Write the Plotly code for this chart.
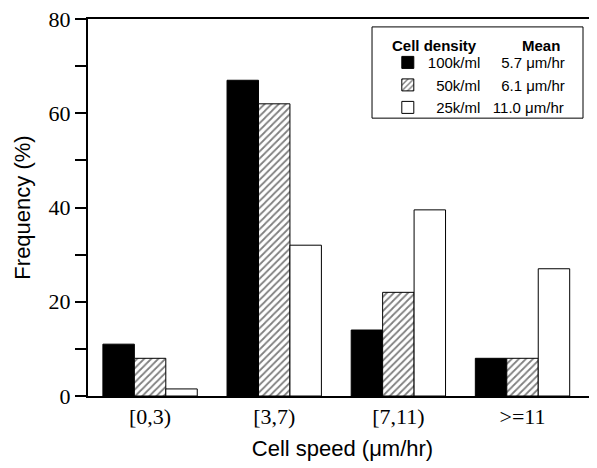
import plotly.graph_objects as go

categories = ["[0,3)", "[3,7)", "[7,11)", ">=11"]
density_labels = ["100k/ml", "\u200750k/ml", "\u200725k/ml"]
mean_labels = ["\u20075.7 \u03bcm/hr", "\u20076.1 \u03bcm/hr", "11.0 \u03bcm/hr"]
freq_100k = [11, 67, 14, 8]
freq_50k = [8, 62, 22, 8]
freq_25k = [1.5, 32, 39.5, 27]
y_tick_vals = [0, 10, 20, 30, 40, 50, 60, 70, 80]
y_tick_text = ["0", "", "20", "", "40", "", "60", "", "80"]
legend_headers = ["Cell density", "Mean"]

series = [freq_100k, freq_50k, freq_25k]
fills = [
    dict(color="black"),
    dict(color="white", pattern=dict(shape="/", fgcolor="black", bgcolor="white", size=5, solidity=0.35)),
    dict(color="white"),
]

fig = go.Figure()
for vals, dl, ml, fm in zip(series, density_labels, mean_labels, fills):
    fig.add_trace(go.Bar(
        x=categories, y=vals,
        name=dl + "\u00a0\u00a0\u00a0" + ml,
        marker=dict(line=dict(color="black", width=1), **fm),
    ))

# legend frame and header
fig.add_shape(type="rect", xref="paper", yref="paper",
              x0=0.558, x1=0.9725, y0=0.737, y1=0.979,
              line=dict(color="black", width=1), fillcolor="white", layer="below")
for hdr, hx in zip(legend_headers, [0.680, 0.890]):
    fig.add_annotation(text="<b>%s</b>" % hdr, xref="paper", yref="paper",
                       x=hx, y=0.931, xanchor="center", yanchor="middle", showarrow=False,
                       font=dict(family="Liberation Sans, Arial", size=15, color="black"))

fig.update_layout(
    width=589, height=460,
    margin=dict(l=80, r=0, t=11, b=72, autoexpand=False),
    plot_bgcolor="white", paper_bgcolor="white",
    barmode="group", bargap=0.24, bargroupgap=0,
    showlegend=True,
    legend=dict(
        x=0.589, y=0.928, xanchor="left", yanchor="top",
        borderwidth=0, bgcolor="rgba(0,0,0,0)",
        font=dict(family="Liberation Sans, Arial", size=15, color="black"),
        traceorder="normal",
        tracegroupgap=0,
        itemwidth=30,
    ),
    xaxis=dict(
        range=[-0.5, 3.6], showline=True, linecolor="black", linewidth=2,
        mirror=True, ticks="", showgrid=False,
        tickfont=dict(family="Liberation Serif, Times New Roman", size=22, color="black"),
        title=dict(text="Cell speed (\u03bcm/hr)",
                   font=dict(family="Liberation Sans, Arial", size=22, color="black"),
                   standoff=12),
    ),
    yaxis=dict(
        range=[0, 80], showline=True, linecolor="black", linewidth=2,
        ticks="outside", ticklen=11, tickwidth=1.5, tickcolor="black",
        tickvals=y_tick_vals, ticktext=y_tick_text, showgrid=False, zeroline=False,
        ticklabeloverflow="allow",
        tickfont=dict(family="Liberation Serif, Times New Roman", size=22, color="black"),
        title=dict(text="Frequency (%)",
                   font=dict(family="Liberation Sans, Arial", size=22, color="black"),
                   standoff=12),
    ),
)

fig.write_html("out.html")
